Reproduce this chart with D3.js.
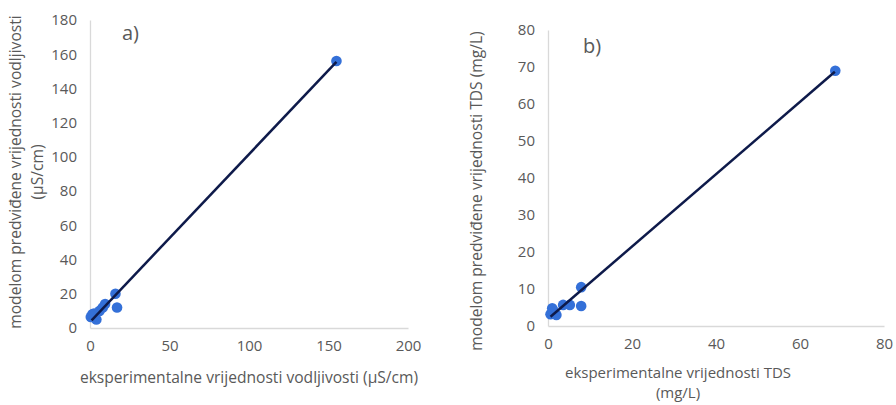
<!DOCTYPE html>
<html><head><meta charset="utf-8">
<script src="https://cdn.jsdelivr.net/npm/d3@7"></script>
<style>body{margin:0;background:#fff}svg{display:block}text{font-family:"Open Sans",sans-serif;fill:#595959}</style>
</head><body><svg id="c" width="896" height="405"></svg>
<script>
// Panel a data (conductivity, µS/cm)
const aX = [0.5, 1.5, 2.5, 4, 3, 6, 8, 9.5, 16, 17, 155];
const aY = [6.5, 8, 8.5, 5, 7, 10, 12, 14, 20, 12, 156];
const aTrendX = [1, 155];
const aTrendY = [4.5, 155.5];
const aXTicks = [0, 50, 100, 150, 200];
const aYTicks = [0, 20, 40, 60, 80, 100, 120, 140, 160, 180];
// Panel b data (TDS, mg/L)
const bX = [0.6, 1, 1.2, 2, 3.6, 5.2, 7.9, 7.9, 68.4];
const bY = [3.2, 4.8, 4.3, 3.0, 5.7, 5.7, 10.5, 5.4, 69];
const bTrendX = [0.6, 68.3];
const bTrendY = [2.5, 68.7];
const bXTicks = [0, 20, 40, 60, 80];
const bYTicks = [0, 10, 20, 30, 40, 50, 60, 70, 80];

const svg = d3.select("#c");
function panel(o){
  const x = d3.scaleLinear().domain([0, o.xmax]).range([o.x0, o.x1]);
  const y = d3.scaleLinear().domain([0, o.ymax]).range([o.y0, o.y1]);
  const g = svg.append("g");
  const xa = g.append("g").attr("transform",`translate(0,${o.y0})`)
    .call(d3.axisBottom(x).tickValues(o.xt).tickSize(0).tickPadding(12).tickFormat(d3.format("d")));
  const ya = g.append("g").attr("transform",`translate(${o.x0},0)`)
    .call(d3.axisLeft(y).tickValues(o.yt).tickSize(0).tickPadding(13).tickFormat(d3.format("d")));
  [xa, ya].forEach(a=>{
    a.select(".domain").attr("stroke","#d9d9d9").attr("stroke-width",1.3);
    a.selectAll("text").attr("font-size",15).style("fill","#595959").attr("font-family","Open Sans");
  });
  g.selectAll("circle").data(o.px.map((v,i)=>[v,o.py[i]])).join("circle")
    .attr("cx",d=>x(d[0])).attr("cy",d=>y(d[1])).attr("r",5.3).attr("fill","#3470d8");
  g.append("line").attr("x1",x(o.tx[0])).attr("y1",y(o.ty[0])).attr("x2",x(o.tx[1])).attr("y2",y(o.ty[1]))
    .attr("stroke","#0e1a4a").attr("stroke-width",2.5);
  return {x,y,g};
}
const A = panel({xmax:200,ymax:180,x0:90,x1:408,y0:328,y1:20,xt:aXTicks,yt:aYTicks,px:aX,py:aY,tx:aTrendX,ty:aTrendY});
const B = panel({xmax:80,ymax:80,x0:548,x1:884,y0:326,y1:30,xt:bXTicks,yt:bYTicks,px:bX,py:bY,tx:bTrendX,ty:bTrendY});

// labels
svg.append("text").attr("x",122).attr("y",40).attr("font-size",20).text("a)");
svg.append("text").attr("x",583).attr("y",53).attr("font-size",20).text("b)");

svg.append("text").attr("x",249).attr("y",383).attr("text-anchor","middle").attr("font-size",15.6)
  .text("eksperimentalne vrijednosti vodljivosti (µS/cm)");
svg.append("text").attr("transform","translate(21,172) rotate(-90)").attr("text-anchor","middle").attr("font-size",15.6)
  .text("modelom predviđene vrijednosti vodljivosti");
svg.append("text").attr("transform","translate(43,172) rotate(-90)").attr("text-anchor","middle").attr("font-size",15.6)
  .text("(µS/cm)");

svg.append("text").attr("x",678).attr("y",378).attr("text-anchor","middle").attr("font-size",15)
  .text("eksperimentalne vrijednosti TDS");
svg.append("text").attr("x",678).attr("y",398).attr("text-anchor","middle").attr("font-size",15)
  .text("(mg/L)");
svg.append("text").attr("transform","translate(482,191) rotate(-90)").attr("text-anchor","middle").attr("font-size",15.6)
  .text("modelom predviđene vrijednosti TDS (mg/L)");
</script></body></html>
